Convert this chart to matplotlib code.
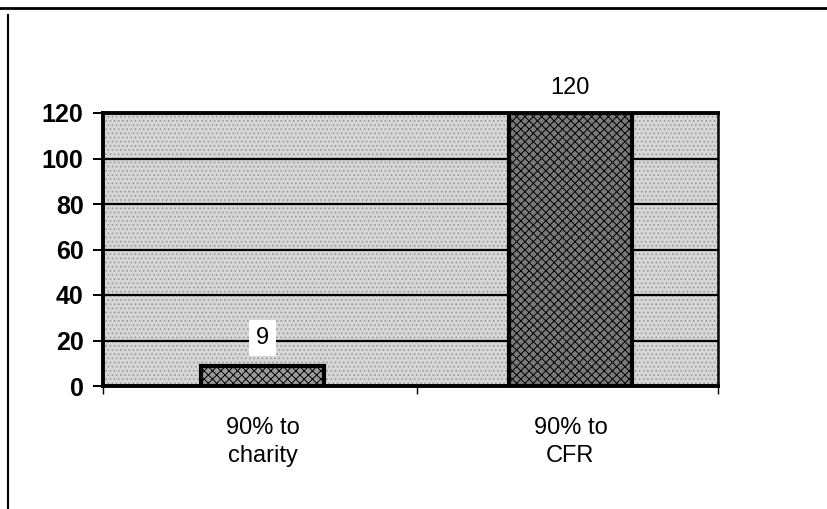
import matplotlib

matplotlib.use("Agg")
import matplotlib.pyplot as plt
from matplotlib.lines import Line2D

# du lieu doc tu bieu do
categories = ["90% to\ncharity", "90% to\nCFR"]
values = [9, 120]
value_labels = ["9", "120"]
y_ticks = [0, 20, 40, 60, 80, 100, 120]

plt.rcParams["font.family"] = ["Liberation Sans", "DejaVu Sans"]
plt.rcParams["hatch.linewidth"] = 0.7

fig = plt.figure(figsize=(8.27, 5.09), dpi=100)
ax = fig.add_axes([103 / 827, 1 - 386 / 509, 615 / 827, 273 / 509])

# nen cham xam
ax.set_facecolor("#d6d6d6")
ax.patch.set_hatch("....")
ax.patch.set_edgecolor("#9a9a9a")

x = [0, 1]
ax.set_xlim(-0.52, 1.48)
ax.set_ylim(0, 120)

ax.yaxis.grid(True, color="black", linewidth=1.6)
ax.set_axisbelow(True)

bar_colors = ["#9a9a9a", "#7a7a7a"]
ax.bar(x, values, width=0.4, color=bar_colors, edgecolor="black",
       linewidth=3, hatch="xxxx", zorder=3)

# nhan gia tri
ax.text(x[0], 21, value_labels[0], ha="center", va="center", fontsize=17,
        fontweight="medium",
        bbox=dict(facecolor="white", edgecolor="none", pad=5), zorder=4)
ax.text(x[1], 131, value_labels[1], ha="center", va="center", fontsize=17,
        fontweight="medium", clip_on=False)

ax.set_yticks(y_ticks)
ax.tick_params(axis="y", labelsize=18, length=7, width=1.4, pad=7)
for lbl in ax.get_yticklabels():
    lbl.set_fontweight("bold")

ax.set_xticks([-0.52, 0.5, 1.48], minor=False)
ax.set_xticklabels(["", "", ""])
ax.tick_params(axis="x", length=6, width=1, direction="out")
ax.set_xticks(x, minor=True)
ax.set_xticklabels(categories, minor=True, fontsize=17, linespacing=1.4)
ax.tick_params(axis="x", which="minor", length=0, pad=22)

for side in ["left", "bottom", "top"]:
    ax.spines[side].set_linewidth(2.8)
ax.spines["right"].set_linewidth(1.8)

# khung trang
fig.add_artist(Line2D([0, 1], [1 - 8 / 509, 1 - 8 / 509], color="black",
                      linewidth=2, transform=fig.transFigure))
fig.add_artist(Line2D([8 / 827, 8 / 827], [0, 1 - 15 / 509], color="black",
                      linewidth=1.5, transform=fig.transFigure))

fig.savefig("out.png", dpi=100, facecolor="white")
